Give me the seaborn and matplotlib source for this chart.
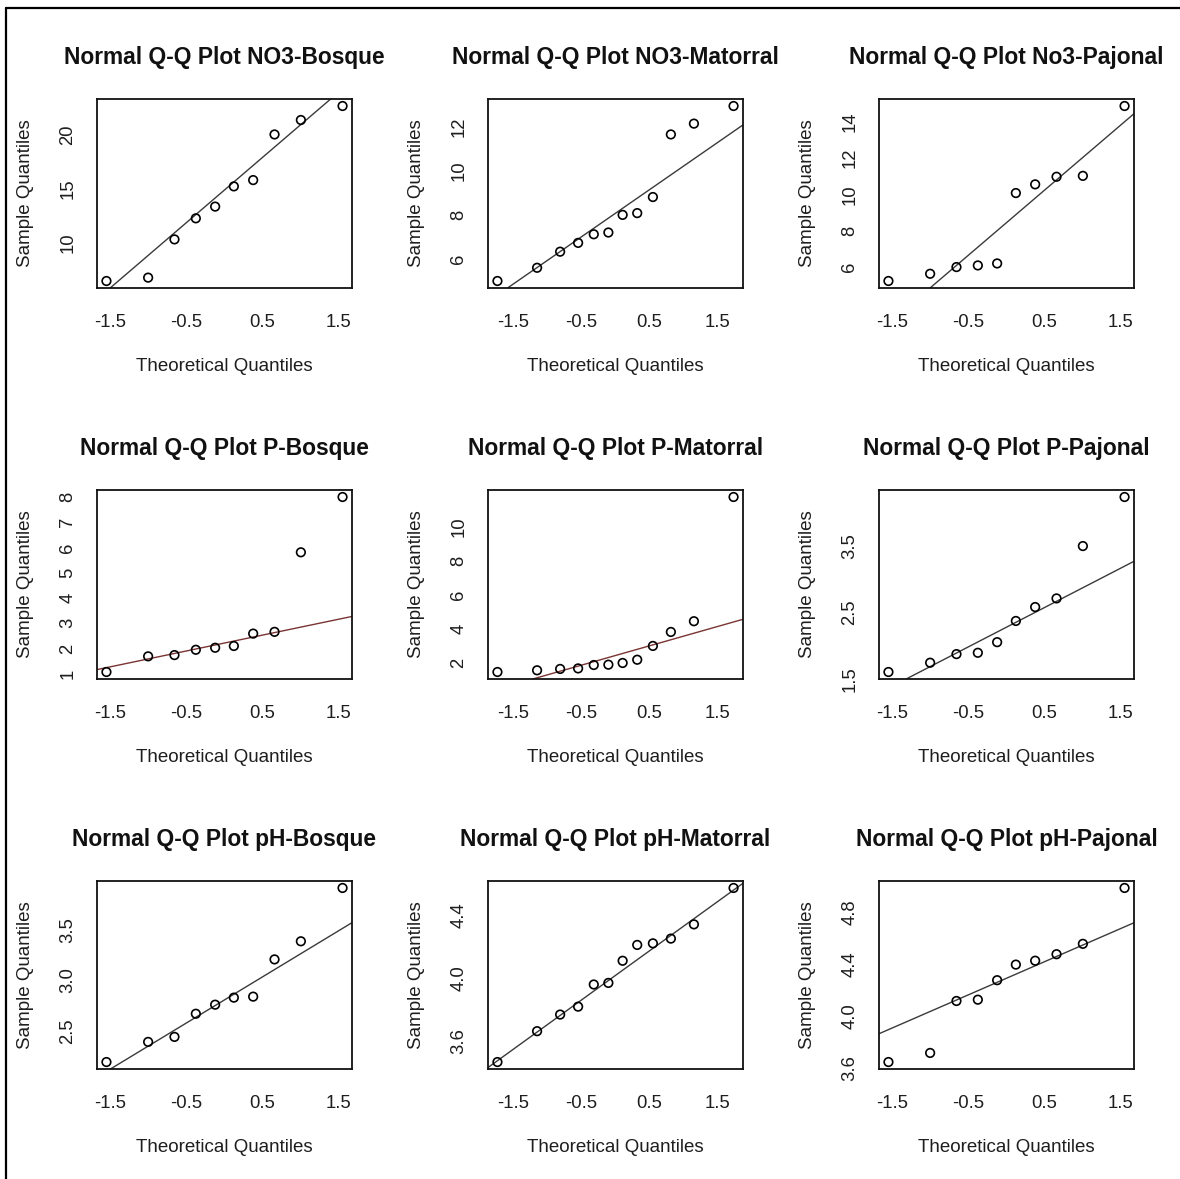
import matplotlib
matplotlib.use("Agg")
import matplotlib.pyplot as plt
from matplotlib.lines import Line2D
import numpy as np
import seaborn as sns

# ---------------- data ----------------
titles = [
    "Normal Q-Q Plot NO3-Bosque", "Normal Q-Q Plot NO3-Matorral", "Normal Q-Q Plot No3-Pajonal",
    "Normal Q-Q Plot P-Bosque", "Normal Q-Q Plot P-Matorral", "Normal Q-Q Plot P-Pajonal",
    "Normal Q-Q Plot pH-Bosque", "Normal Q-Q Plot pH-Matorral", "Normal Q-Q Plot pH-Pajonal",
]

# theoretical normal quantiles (R ppoints) for n = 10 and n = 12
theo_10 = [-1.5466, -1.0005, -0.6554, -0.3755, -0.1226, 0.1226, 0.3755, 0.6554, 1.0005, 1.5466]
theo_12 = [-1.7317, -1.1503, -0.8122, -0.5485, -0.3186, -0.1046,
           0.1046, 0.3186, 0.5485, 0.8122, 1.1503, 1.7317]

no3_bosque = [6.51, 6.82, 10.34, 12.28, 13.36, 15.22, 15.80, 20.0, 21.33, 22.62]
no3_matorral = [5.0, 5.6, 6.33, 6.73, 7.12, 7.2, 8.0, 8.08, 8.81, 11.65, 12.14, 12.94]
no3_pajonal = [5.21, 5.61, 5.98, 6.07, 6.18, 10.07, 10.55, 10.97, 11.02, 14.88]
p_bosque = [1.07, 1.69, 1.74, 1.95, 2.03, 2.10, 2.59, 2.66, 5.81, 8.0]
p_matorral = [1.49, 1.59, 1.67, 1.70, 1.90, 1.92, 2.02, 2.21, 3.02, 3.84, 4.47, 11.76]
p_pajonal = [1.60, 1.74, 1.87, 1.89, 2.05, 2.37, 2.58, 2.71, 3.50, 4.24]
ph_bosque = [2.19, 2.39, 2.44, 2.67, 2.76, 2.83, 2.84, 3.21, 3.39, 3.92]
ph_matorral = [3.47, 3.665, 3.77, 3.82, 3.96, 3.97, 4.11, 4.21, 4.22, 4.25, 4.34, 4.57]
ph_pajonal = [3.65, 3.72, 4.12, 4.13, 4.28, 4.40, 4.43, 4.48, 4.56, 4.99]

samples = [no3_bosque, no3_matorral, no3_pajonal,
           p_bosque, p_matorral, p_pajonal,
           ph_bosque, ph_matorral, ph_pajonal]

x_ticks = [-1.5, -1.0, -0.5, 0.0, 0.5, 1.0, 1.5]
x_ticklabels = ["-1.5", "", "-0.5", "", "0.5", "", "1.5"]

y_ticks = [
    [10, 15, 20],
    [6, 8, 10, 12],
    [6, 8, 10, 12, 14],
    [1, 2, 3, 4, 5, 6, 7, 8],
    [2, 4, 6, 8, 10, 12],
    [1.5, 2.0, 2.5, 3.0, 3.5, 4.0],
    [2.5, 3.0, 3.5],
    [3.6, 3.8, 4.0, 4.2, 4.4, 4.6],
    [3.6, 3.8, 4.0, 4.2, 4.4, 4.6, 4.8, 5.0],
]
y_ticklabels = [
    ["10", "15", "20"],
    ["6", "8", "10", "12"],
    ["6", "8", "10", "12", "14"],
    ["1", "2", "3", "4", "5", "6", "7", "8"],
    ["2", "4", "6", "8", "10", ""],
    ["1.5", "", "2.5", "", "3.5", ""],
    ["2.5", "3.0", "3.5"],
    ["3.6", "", "4.0", "", "4.4", ""],
    ["3.6", "", "4.0", "", "4.4", "", "4.8", ""],
]

line_colors = ["#3a3a3a", "#3a3a3a", "#3a3a3a",
               "#7a3434", "#7a3434", "#3a3a3a",
               "#3a3a3a", "#3a3a3a", "#3a3a3a"]

# ---------------- style ----------------
sns.set_theme(style="white")
plt.rcParams["font.family"] = ["Liberation Sans", "DejaVu Sans"]

W, H = 1180, 1179
fig = plt.figure(figsize=(W / 100, H / 100), dpi=100)
fig.patch.set_facecolor("white")

col_x = [(97, 352), (488, 743), (879, 1134)]
row_y = [(99, 288), (490, 679), (881, 1069)]

for i in range(9):
    r, c = divmod(i, 3)
    x0, x1 = col_x[c]
    y0, y1 = row_y[r]
    ax = fig.add_axes([x0 / W, 1 - y1 / H, (x1 - x0) / W, (y1 - y0) / H])
    ys = np.array(samples[i])
    xs = np.array(theo_10 if len(ys) == 10 else theo_12)

    sns.scatterplot(x=xs, y=ys, ax=ax, marker="o", s=38,
                    facecolor="none", edgecolor="black", linewidth=1.2, zorder=3)

    # R qqline: through first and third quartiles
    q1y, q3y = np.percentile(ys, [25, 75])
    q1x, q3x = -0.6745, 0.6745
    slope = (q3y - q1y) / (q3x - q1x)
    inter = q1y - slope * q1x
    ax.axline((0, inter), slope=slope, color=line_colors[i], lw=1.0, zorder=2)

    ax.margins(x=0.04, y=0.04)
    ax.set_xticks(x_ticks)
    ax.set_xticklabels(x_ticklabels)
    ax.set_yticks(y_ticks[i])
    ax.set_yticklabels(y_ticklabels[i], rotation=90, va="center")

    for sp in ax.spines.values():
        sp.set_visible(True)
        sp.set_color("#111111")
        sp.set_linewidth(1.3)
    ax.tick_params(axis="both", which="major", direction="out", length=6,
                   width=1.2, color="#111111", labelsize=13.3, labelcolor="#1e1e1e")
    ax.tick_params(axis="x", pad=13)
    ax.tick_params(axis="y", pad=9)
    ax.grid(False)

    ax.set_title(titles[i], fontsize=16.4, fontweight="bold", color="#111111", pad=25)
    ax.set_xlabel("Theoretical Quantiles", fontsize=13.5, color="#1e1e1e", labelpad=19)
    ax.set_ylabel("Sample Quantiles", fontsize=13.5, color="#1e1e1e", labelpad=18)

# outer frame (top and left edge)
fig.add_artist(Line2D([5.5 / W, 1.0], [1 - 8 / H, 1 - 8 / H], transform=fig.transFigure,
                      color="black", lw=1.6))
fig.add_artist(Line2D([5.5 / W, 5.5 / W], [0.0, 1 - 8 / H], transform=fig.transFigure,
                      color="black", lw=1.6))

fig.savefig("out.png", dpi=100, facecolor="white")
